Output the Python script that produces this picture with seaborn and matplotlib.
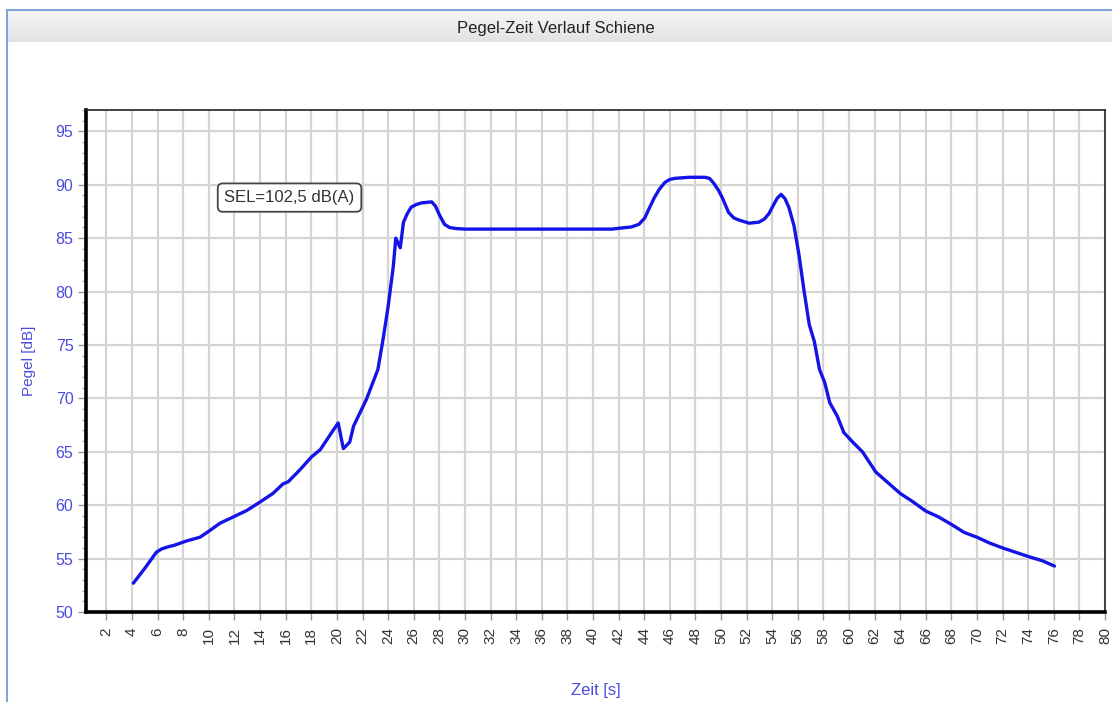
import numpy as np
import pandas as pd
import matplotlib
matplotlib.use("Agg")
import matplotlib.pyplot as plt
from matplotlib.lines import Line2D
from matplotlib.ticker import MultipleLocator
import seaborn as sns

# ---- data ----
zeit = [4.1, 5.0, 5.9, 6.3, 6.8, 7.3, 8.25, 9.3, 10.1, 10.85, 11.9, 12.95, 14.0, 15.0,
        15.8, 16.2, 17.1, 18.0, 18.7, 19.2, 19.7, 20.1, 20.5, 21.0, 21.3, 22.3, 23.2,
        23.6, 24.0, 24.4, 24.6, 24.95, 25.2, 25.5, 25.8, 26.2, 26.6, 27.0, 27.4, 27.7,
        28.0, 28.4, 28.8, 29.3, 30.0,
        35.0, 41.5, 42.2, 43.0, 43.6, 44.05, 44.4, 44.8, 45.2, 45.6, 46.0, 46.4, 47.5,
        48.75, 49.1, 49.4, 49.8, 50.1, 50.6, 51.0, 51.4, 52.2, 52.97, 53.4, 53.75, 54.1,
        54.4, 54.7, 55.0, 55.3, 55.7, 56.1, 56.5, 56.9, 57.3, 57.7,
        58.1, 58.5, 59.1, 59.6, 60.3, 61.05, 62.1, 63.1, 64.0, 64.9, 66.0, 67.0, 68.0,
        69.0, 70.0, 71.0, 72.0, 73.0, 74.0, 75.1, 76.05]
pegel = [52.7, 54.1, 55.6, 55.9, 56.1, 56.25, 56.65, 57.0, 57.65, 58.3, 58.9, 59.5, 60.3,
         61.1, 62.0, 62.2, 63.3, 64.5, 65.2, 66.1, 67.0, 67.7, 65.3, 65.9, 67.4, 69.9,
         72.7, 75.5, 78.6, 82.3, 85.0, 84.1, 86.5, 87.3, 87.9, 88.15, 88.3, 88.35, 88.4,
         88.0, 87.2, 86.3, 86.0, 85.9, 85.85,
         85.85, 85.85, 85.95, 86.05, 86.3, 86.9, 87.8, 88.8, 89.6, 90.2, 90.5, 90.6, 90.7,
         90.7, 90.6, 90.2, 89.5, 88.8, 87.4, 86.9, 86.7, 86.4, 86.5, 86.8, 87.3, 88.1,
         88.75, 89.1, 88.7, 87.9, 86.2, 83.4, 80.0, 76.9, 75.3, 72.7,
         71.5, 69.6, 68.3, 66.8, 65.9, 65.0, 63.1, 62.05, 61.1, 60.4, 59.45, 58.9, 58.2,
         57.45, 57.0, 56.45, 56.0, 55.6, 55.2, 54.8, 54.3]
x_ticks = list(range(2, 81, 2))
y_ticks = list(range(50, 96, 5))
title_text = "Pegel-Zeit Verlauf Schiene"
annot_text = "SEL=102,5 dB(A)"
x_label = "Zeit [s]"
y_label = "Pegel [dB]"

df = pd.DataFrame({"Zeit": zeit, "Pegel": pegel})

sns.set_style("white")
plt.rcParams["font.family"] = ["Liberation Sans", "DejaVu Sans"]

W, H = 1112, 702
fig = plt.figure(figsize=(W / 100, H / 100), dpi=100)
fig.patch.set_facecolor("white")

# title bar with gradient
tb = fig.add_axes([8 / W, 1 - 42 / H, 1 - 8 / W, 31 / H])
grad = np.linspace(0, 1, 50).reshape(-1, 1)
tb.imshow(grad, aspect="auto", cmap=matplotlib.colors.LinearSegmentedColormap.from_list(
    "g", ["#f6f6f6", "#e2e2e2"]), extent=[0, 1, 0, 1])
tb.set_axis_off()
tb.text(0.5 - 8 / W / 2, 0.45, title_text, ha="center", va="center", fontsize=12,
        color="#222222", transform=tb.transAxes)

# outer frame lines
fig.add_artist(Line2D([7 / W, 7 / W], [0, 1 - 10 / H], transform=fig.transFigure,
                      color="#7fa3dc", lw=1.5))
fig.add_artist(Line2D([7 / W, 1], [1 - 10 / H, 1 - 10 / H], transform=fig.transFigure,
                      color="#7fa3dc", lw=1.5))

left, right, top, bottom = 86, 1105, 110, 612
ax = fig.add_axes([left / W, 1 - bottom / H, (right - left) / W, (bottom - top) / H])

sns.lineplot(data=df, x="Zeit", y="Pegel", ax=ax, color="#1414e6", lw=2.4,
             estimator=None, sort=False)

ax.set_xlim(0.4, 80)
ax.set_ylim(50, 97)
ax.set_xticks(x_ticks)
ax.set_xticklabels([str(v) for v in x_ticks], rotation=90, fontsize=11, color="#333333")
ax.set_yticks(y_ticks)
ax.set_yticklabels([str(v) for v in y_ticks], fontsize=11.5, color="#4b4bdc")
ax.yaxis.set_minor_locator(MultipleLocator(1))
ax.tick_params(axis="x", which="major", length=6, width=1, color="#999999", pad=5,
               bottom=True, direction="out")
ax.tick_params(axis="y", which="major", length=6, width=1, color="#999999", pad=3,
               left=True, direction="out")
ax.tick_params(axis="y", which="minor", length=3, width=1, color="#aaaaaa", left=True,
               direction="out")

ax.grid(True, which="major", color="#d4d4d4", lw=1.6)
ax.set_axisbelow(True)

for side in ["left", "bottom"]:
    ax.spines[side].set_visible(True)
    ax.spines[side].set_color("black")
    ax.spines[side].set_linewidth(2.6)
for side in ["top", "right"]:
    ax.spines[side].set_visible(True)
    ax.spines[side].set_color("#222222")
    ax.spines[side].set_linewidth(1.2)

ax.set_xlabel(x_label, fontsize=12, color="#4b4bdc", labelpad=28)
ax.set_ylabel(y_label, fontsize=11, color="#4b4bdc", labelpad=14)

ax.text(16.3, 88.8, annot_text, ha="center", va="center", fontsize=12, color="#333333",
        bbox=dict(boxstyle="round,pad=0.4,rounding_size=0.3", fc="white",
                  ec="#444444", lw=1.3))

fig.savefig("out.png", dpi=100, facecolor="white")
